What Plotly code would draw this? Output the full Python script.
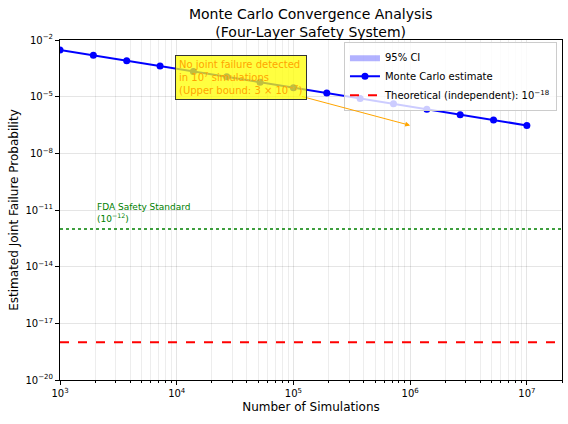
import plotly.graph_objects as go

# simulation counts (logspace 1e3..1e7, 15 steps) and MC upper-bound estimates
n_sims = [1000, 1931, 3728, 7197, 13895, 26827, 51795, 100000,
          193070, 372759, 719686, 1389495, 2682696, 5179475, 10000000]
mc_estimate = [3.0e-3, 1.55e-3, 8.05e-4, 4.17e-4, 2.16e-4, 1.12e-4, 5.79e-5, 3.0e-5,
               1.55e-5, 8.05e-6, 4.17e-6, 2.16e-6, 1.12e-6, 5.79e-7, 3.0e-7]
ci_lower = [3.0e-3, 1.55e-3, 8.05e-4, 4.17e-4, 2.16e-4, 1.12e-4, 5.79e-5, 3.0e-5,
            1.55e-5, 8.05e-6, 4.17e-6, 2.16e-6, 1.12e-6, 5.79e-7, 3.0e-7]
ci_upper = [3.0e-3, 1.55e-3, 8.05e-4, 4.17e-4, 2.16e-4, 1.12e-4, 5.79e-5, 3.0e-5,
            1.55e-5, 8.05e-6, 4.17e-6, 2.16e-6, 1.12e-6, 5.79e-7, 3.0e-7]

theoretical = 1e-18
fda_standard = 1e-12
x_limits = [1e3, 2e7]

y_tickvals = [1e-20, 1e-17, 1e-14, 1e-11, 1e-8, 1e-5, 1e-2]
y_ticktext = ["10<sup>−20</sup>", "10<sup>−17</sup>", "10<sup>−14</sup>", "10<sup>−11</sup>",
              "10<sup>−8</sup>", "10<sup>−5</sup>", "10<sup>−2</sup>"]
x_tickvals = [1e3, 1e4, 1e5, 1e6, 1e7]
x_ticktext = ["10<sup>3</sup>", "10<sup>4</sup>", "10<sup>5</sup>", "10<sup>6</sup>", "10<sup>7</sup>"]
x_minor = [m * 10 ** e for e in range(3, 8) for m in range(2, 10) if m * 10 ** e <= 2e7]

FONT = "DejaVu Sans"

fig = go.Figure()

# CI band
fig.add_trace(go.Scatter(x=n_sims, y=ci_lower, mode="lines", line=dict(width=0),
                         showlegend=False, hoverinfo="skip"))
fig.add_trace(go.Scatter(x=n_sims, y=ci_upper, mode="lines", line=dict(width=0),
                         fill="tonexty", fillcolor="rgba(0,0,255,0.3)", name="95% CI"))

fig.add_trace(go.Scatter(x=n_sims, y=mc_estimate, mode="lines+markers",
                         line=dict(color="blue", width=2),
                         marker=dict(color="blue", size=7),
                         name="Monte Carlo estimate"))

fig.add_trace(go.Scatter(x=x_limits, y=[theoretical] * 2, mode="lines",
                         line=dict(color="red", width=2, dash="dash"),
                         name="Theoretical (independent): 10<sup>−18</sup>"))

fig.add_trace(go.Scatter(x=x_limits, y=[fda_standard] * 2, mode="lines",
                         line=dict(color="green", width=1.5, dash="dot"),
                         showlegend=False))

# FDA label
fig.add_annotation(x=3.3, y=-11.85, xref="x", yref="y", showarrow=False,
                   text="FDA Safety Standard<br>(10<sup>−12</sup>)", align="left",
                   xanchor="left", yanchor="bottom",
                   font=dict(family=FONT, size=9, color="green"))

# arrow
fig.add_annotation(x=6, y=-6.52, ax=5.06, ay=-4.97, xref="x", yref="y",
                   axref="x", ayref="y", text="", showarrow=True,
                   arrowhead=2, arrowsize=1, arrowwidth=1, arrowcolor="orange")

# yellow box
fig.add_annotation(x=3.985, y=-4.0, xref="x", yref="y", showarrow=False,
                   text="No joint failure detected<br>in 10<sup>7</sup> simulations<br>"
                        "(Upper bound: 3 × 10<sup>−7</sup>)",
                   align="left", xanchor="left", yanchor="middle",
                   font=dict(family=FONT, size=10, color="orange"),
                   bgcolor="rgba(255,255,0,0.75)", bordercolor="#333333",
                   borderwidth=1, borderpad=3)

fig.update_xaxes(type="log", range=[3, 7.301], tickvals=x_tickvals, ticktext=x_ticktext,
                 showline=True, linecolor="black", linewidth=1, mirror=True,
                 ticks="outside", ticklen=4, tickcolor="black",
                 showgrid=True, gridcolor="rgba(0,0,0,0.1)",
                 minor=dict(tickvals=x_minor, showgrid=True, gridcolor="rgba(0,0,0,0.07)",
                            ticks="outside", ticklen=2, tickcolor="black"),
                 title=dict(text="Number of Simulations", font=dict(family=FONT, size=12),
                            standoff=4),
                 tickfont=dict(family=FONT, size=10, color="black"), zeroline=False,
                 automargin=False)
fig.update_yaxes(type="log", range=[-20, -2], tickvals=y_tickvals, ticktext=y_ticktext,
                 showline=True, linecolor="black", linewidth=1, mirror=True,
                 ticks="outside", ticklen=4, tickcolor="black",
                 showgrid=True, gridcolor="rgba(0,0,0,0.1)",
                 title=dict(text="Estimated Joint Failure Probability",
                            font=dict(family=FONT, size=12), standoff=4),
                 tickfont=dict(family=FONT, size=10, color="black"), zeroline=False,
                 automargin=False)

fig.update_layout(
    width=568, height=424,
    margin=dict(l=60, r=6, t=40, b=44),
    paper_bgcolor="white", plot_bgcolor="white",
    font=dict(family=FONT, color="black"),
    title=dict(text="Monte Carlo Convergence Analysis<br>(Four-Layer Safety System)",
               x=0.547, xanchor="center", y=0.955, yanchor="top",
               font=dict(family=FONT, size=14)),
    legend=dict(x=0.99, y=0.995, xanchor="right", yanchor="top", traceorder="normal",
                bgcolor="rgba(255,255,255,0.8)", bordercolor="#cccccc", borderwidth=1,
                font=dict(family=FONT, size=10), itemwidth=30),
)

fig.write_html("out.html", config={"displayModeBar": False},
               post_script="document.body.style.margin='0';")
